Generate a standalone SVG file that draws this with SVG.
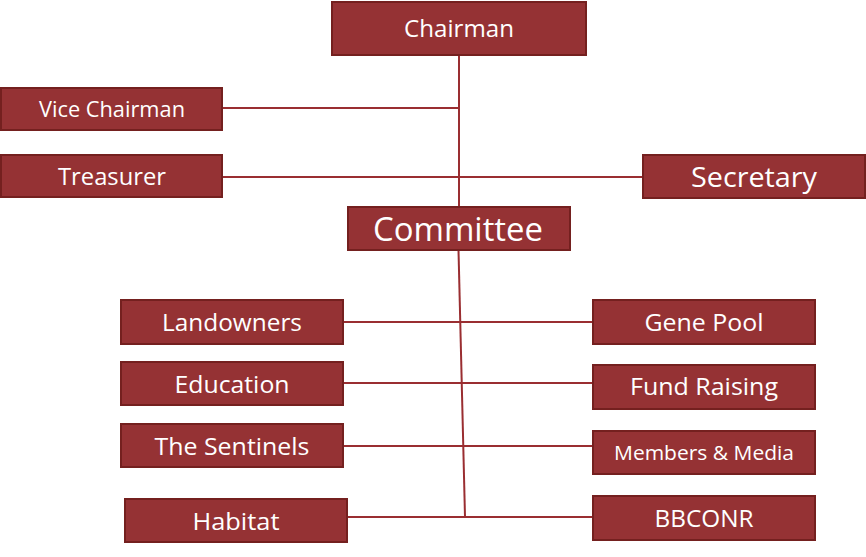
<svg xmlns="http://www.w3.org/2000/svg" width="866" height="557" viewBox="0 0 866 557">
<style>
.box{fill:#953234;stroke:#74201f;stroke-width:2}
.lbl{fill:#ffffff;font-family:"Open Sans","Noto Sans",sans-serif;text-anchor:middle}
.ln{stroke:#9a2e31;stroke-width:2;fill:none}
</style>
<rect width="866" height="557" fill="#ffffff"/>
<g id="connectors">
<line class="ln" x1="459" y1="55" x2="459" y2="207"/>
<line class="ln" x1="222" y1="108" x2="459" y2="108"/>
<line class="ln" x1="222" y1="177" x2="643" y2="177"/>
<line class="ln" x1="458.5" y1="250" x2="465" y2="517"/>
<line class="ln" x1="343" y1="322" x2="593" y2="322"/>
<line class="ln" x1="343" y1="383" x2="593" y2="383"/>
<line class="ln" x1="343" y1="446" x2="593" y2="446"/>
<line class="ln" x1="347" y1="517" x2="593" y2="517"/>
</g>
<g id="chairman"><rect class="box" x="332" y="2" width="254" height="53"/><text class="lbl" x="459" y="37" font-size="24" textLength="110" lengthAdjust="spacingAndGlyphs">Chairman</text></g>
<g id="vice-chairman"><rect class="box" x="1" y="88" width="221" height="42"/><text class="lbl" x="112" y="117" font-size="21" textLength="146" lengthAdjust="spacingAndGlyphs">Vice Chairman</text></g>
<g id="treasurer"><rect class="box" x="1" y="155" width="221" height="42"/><text class="lbl" x="112" y="185" font-size="23" textLength="108" lengthAdjust="spacingAndGlyphs">Treasurer</text></g>
<g id="secretary"><rect class="box" x="643" y="155" width="222" height="43"/><text class="lbl" x="754" y="187" font-size="28" textLength="126" lengthAdjust="spacingAndGlyphs">Secretary</text></g>
<g id="committee"><rect class="box" x="348" y="207" width="222" height="43"/><text class="lbl" x="458" y="241" font-size="32" textLength="170" lengthAdjust="spacingAndGlyphs">Committee</text></g>
<g id="landowners"><rect class="box" x="121" y="300" width="222" height="44"/><text class="lbl" x="232" y="331" font-size="24" textLength="140" lengthAdjust="spacingAndGlyphs">Landowners</text></g>
<g id="education"><rect class="box" x="121" y="362" width="222" height="43"/><text class="lbl" x="232" y="393" font-size="24" textLength="115" lengthAdjust="spacingAndGlyphs">Education</text></g>
<g id="the-sentinels"><rect class="box" x="121" y="424" width="222" height="43"/><text class="lbl" x="232" y="455" font-size="24" textLength="155" lengthAdjust="spacingAndGlyphs">The Sentinels</text></g>
<g id="habitat"><rect class="box" x="125" y="499" width="222" height="43"/><text class="lbl" x="236" y="530" font-size="24" textLength="87" lengthAdjust="spacingAndGlyphs">Habitat</text></g>
<g id="gene-pool"><rect class="box" x="593" y="300" width="222" height="44"/><text class="lbl" x="704" y="331" font-size="24" textLength="119" lengthAdjust="spacingAndGlyphs">Gene Pool</text></g>
<g id="fund-raising"><rect class="box" x="593" y="365" width="222" height="44"/><text class="lbl" x="704" y="395" font-size="24" textLength="148" lengthAdjust="spacingAndGlyphs">Fund Raising</text></g>
<g id="members-media"><rect class="box" x="593" y="431" width="222" height="43"/><text class="lbl" x="704" y="460" font-size="20" textLength="180" lengthAdjust="spacingAndGlyphs">Members &amp; Media</text></g>
<g id="bbconr"><rect class="box" x="593" y="496" width="222" height="44"/><text class="lbl" x="704" y="527" font-size="24" textLength="99" lengthAdjust="spacingAndGlyphs">BBCONR</text></g>
</svg>
